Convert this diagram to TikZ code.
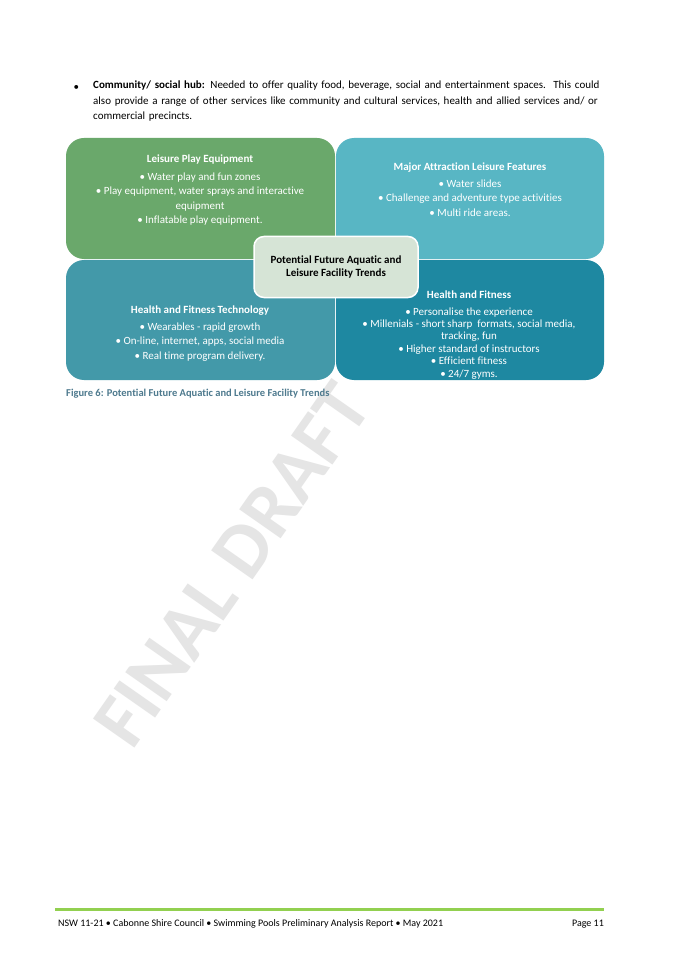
\documentclass[tikz,border=0pt]{standalone}
\usepackage{fontspec}
\setmainfont[Ligatures=NoCommon]{Carlito}
\definecolor{cgreen}{HTML}{6AA86B}
\definecolor{cteal}{HTML}{58B6C4}
\definecolor{cblue}{HTML}{4399A9}
\definecolor{cdark}{HTML}{1E88A1}
\definecolor{ccent}{HTML}{D6E4D6}
\definecolor{ccap}{HTML}{4E7A8E}
\definecolor{lgreen}{HTML}{92D050}
\tikzset{
  quad/.style={text=white,align=center,font=\fontsize{11}{14.5}\selectfont},
  hd/.style={font=\fontsize{11}{13}\selectfont\bfseries,text=white},
}
\begin{document}
\begin{tikzpicture}[x=1pt,y=-1pt]
\useasboundingbox[fill=white] (0,0) rectangle (682,965);
% watermark
\node[text=gray!20,rotate=55,font=\fontsize{78}{78}\selectfont\bfseries] (wm) at (232,565) {FINAL DRAFT};
% top bullet
\node[anchor=west,font=\fontsize{11}{11}\selectfont] (b) at (70,88) {•};
\node[anchor=north west,text width=518pt,align=left,font=\fontsize{11}{15.5}\selectfont,inner sep=0pt] (para) at (93,81) {\textbf{Community/ social hub:} Needed to offer quality food, beverage, social and entertainment spaces.\ \ This could also provide a range of other services like community and cultural services, health and allied services and/ or commercial precincts.};
% quadrants
\fill[cgreen,rounded corners=18pt] (66,259) -- (66,138) -- (335,138) -- (335,259) -- cycle;
\fill[cteal,rounded corners=18pt] (336,259) -- (336,138) -- (604,138) -- (604,259) -- cycle;
\fill[cblue,rounded corners=18pt] (66,260) -- (66,380) -- (335,380) -- (335,260) -- cycle;
\fill[cdark,rounded corners=18pt] (336,260) -- (336,380) -- (604,380) -- (604,260) -- cycle;
\node[hd] (h1) at (200,160) {Leisure Play Equipment};
\node[quad,anchor=north] (t1) at (200,169) {• Water play and fun zones\\• Play equipment, water sprays and interactive\\equipment\\• Inflatable play equipment.};
\node[hd] (h2) at (470,168) {Major Attraction Leisure Features};
\node[quad,anchor=north] (t2) at (470,176) {• Water slides\\• Challenge and adventure type activities\\• Multi ride areas.};
\node[hd] (h3) at (200,311) {Health and Fitness Technology};
\node[quad,anchor=north] (t3) at (200,319) {• Wearables - rapid growth\\• On-line, internet, apps, social media\\• Real time program delivery.};
\node[hd] (h4) at (469,295) {Health and Fitness};
\node[quad,anchor=north,font=\fontsize{11}{12.4}\selectfont] (t4) at (469,304) {• Personalise the experience\\• Millenials - short sharp\ \ formats, social media,\\tracking, fun\\• Higher standard of instructors\\• Efficient fitness\\• 24/7 gyms.};
% centre
\node[draw=white,line width=1.5pt,fill=ccent,rounded corners=10pt,minimum width=164pt,minimum height=61pt,align=center,font=\fontsize{11}{13}\selectfont\bfseries] (c) at (336,267) {Potential Future Aquatic and\\Leisure Facility Trends};
% caption
\node[anchor=west,text=ccap,font=\fontsize{10.5}{10}\selectfont\bfseries,inner sep=0pt] (cap) at (66,394) {Figure 6: Potential Future Aquatic and Leisure Facility Trends};
% footer
\draw[lgreen,line width=3pt] (55,909) -- (604,909);
\node[anchor=west,font=\fontsize{10}{10}\selectfont,inner sep=0pt] (f1) at (58,924) {NSW 11-21 • Cabonne Shire Council • Swimming Pools Preliminary Analysis Report • May 2021};
\node[anchor=east,font=\fontsize{10}{10}\selectfont,inner sep=0pt] (f2) at (604,924) {Page 11};
\end{tikzpicture}
\end{document}
